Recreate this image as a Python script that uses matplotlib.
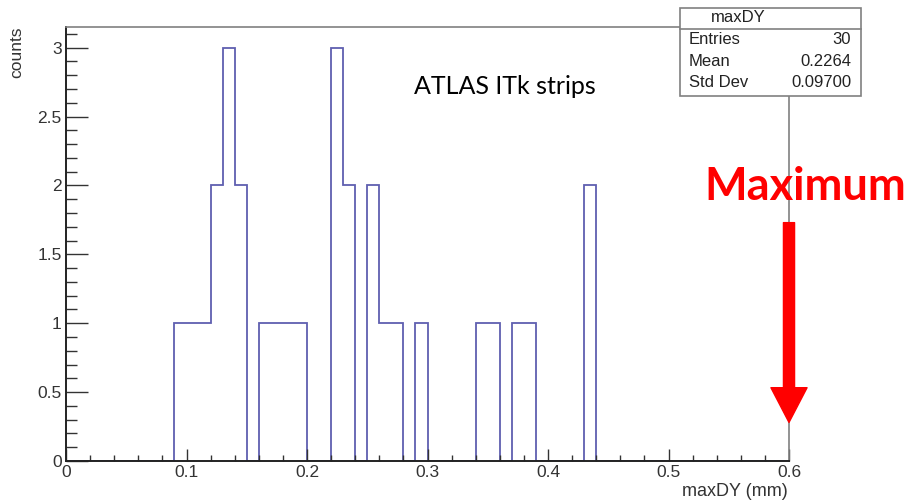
import numpy as np
import matplotlib
matplotlib.use("Agg")
import matplotlib.pyplot as plt
from matplotlib.ticker import MultipleLocator, FuncFormatter

# maxDY histogram, 60 bins of 0.01 mm from 0 to 0.6
bin_edges = np.linspace(0.0, 0.6, 61)
counts = [0, 0, 0, 0, 0, 0, 0, 0, 0, 1,
          1, 1, 2, 3, 2, 0, 1, 1, 1, 1,
          0, 0, 3, 2, 0, 2, 1, 1, 0, 1,
          0, 0, 0, 0, 1, 1, 0, 1, 1, 0,
          0, 0, 0, 2, 0, 0, 0, 0, 0, 0,
          0, 0, 0, 0, 0, 0, 0, 0, 0, 0]

stat_names = ["Entries", "Mean", "Std Dev"]
stat_values = ["30", "0.2264", "0.09700"]

plt.rcParams["font.family"] = ["Liberation Sans", "DejaVu Sans"]

W, H = 909, 501
fig = plt.figure(figsize=(W / 100, H / 100), dpi=100)
ax = fig.add_axes([66 / W, (H - 461) / H, (789 - 66) / W, (461 - 27) / H])

ax.stairs(counts, bin_edges, color="#5f5fb0", linewidth=1.3, zorder=1)

ax.set_xlim(0, 0.6)
ax.set_ylim(0, 3.15)

ax.xaxis.set_major_locator(MultipleLocator(0.1))
ax.xaxis.set_minor_locator(MultipleLocator(0.02))
ax.yaxis.set_major_locator(MultipleLocator(0.5))
ax.yaxis.set_minor_locator(MultipleLocator(0.1))
ax.xaxis.set_major_formatter(FuncFormatter(lambda v, p: f"{v:g}"))
ax.yaxis.set_major_formatter(FuncFormatter(lambda v, p: f"{v:g}"))

ax.tick_params(axis="x", which="major", direction="in", length=9, width=1, pad=3,
               labelsize=12.5, color="#333333", labelcolor="#333333", top=False)
ax.tick_params(axis="x", which="minor", direction="in", length=4.5, width=1,
               color="#333333", top=False)
ax.tick_params(axis="y", which="major", direction="in", length=16, width=1, pad=3,
               labelsize=12.5, color="#333333", labelcolor="#333333", right=False)
ax.tick_params(axis="y", which="minor", direction="in", length=8, width=1,
               color="#333333", right=False)

for s in ["left", "bottom"]:
    ax.spines[s].set_color("#222222")
    ax.spines[s].set_linewidth(1.4)
for s in ["top", "right"]:
    ax.spines[s].set_color("#808080")
    ax.spines[s].set_linewidth(1.2)

fig.text(17 / W, 1 - 27 / H, "counts", rotation=90, ha="center", va="top",
         fontsize=12.5, color="#333333")
fig.text(788 / W, 1 - 492 / H, "maxDY (mm)", ha="right", va="center",
         fontsize=13, color="#333333")

# stats box
box = plt.Rectangle((680 / W, 1 - 96 / H), (861 - 680) / W, (96 - 8) / H,
                    transform=fig.transFigure, facecolor="white", edgecolor="#808080",
                    linewidth=1.2, zorder=5)
fig.add_artist(box)
fig.add_artist(plt.Line2D([680 / W, 861 / W], [1 - 29 / H, 1 - 29 / H],
                          transform=fig.transFigure, color="#808080", lw=1.2, zorder=6))
fig.text(738 / W, 1 - 18 / H, "maxDY", ha="center", va="center", fontsize=12,
         color="#222222", zorder=7)
for i, (n, v) in enumerate(zip(stat_names, stat_values)):
    y = 1 - (39 + 22 * i) / H
    fig.text(689 / W, y, n, ha="left", va="center", fontsize=12, color="#222222", zorder=7)
    fig.text(851 / W, y, v, ha="right", va="center", fontsize=12, color="#222222", zorder=7)

fig.text(505 / W, 1 - 87 / H, "ATLAS ITk strips", ha="center", va="center",
         fontsize=18, family=["Lato", "DejaVu Sans"])

fig.text(805 / W, 1 - 187 / H, "Maximum", ha="center", va="center", color="red",
         fontsize=32.5, fontweight="bold", family=["Lato", "DejaVu Sans"])

ax.annotate("", xy=(0.6, 0.28), xytext=(0.6, 1.73), xycoords="data",
            arrowprops=dict(width=8, headwidth=26, headlength=25, color="red", shrink=0),
            annotation_clip=False, zorder=8)

fig.savefig("out.png", dpi=100)
